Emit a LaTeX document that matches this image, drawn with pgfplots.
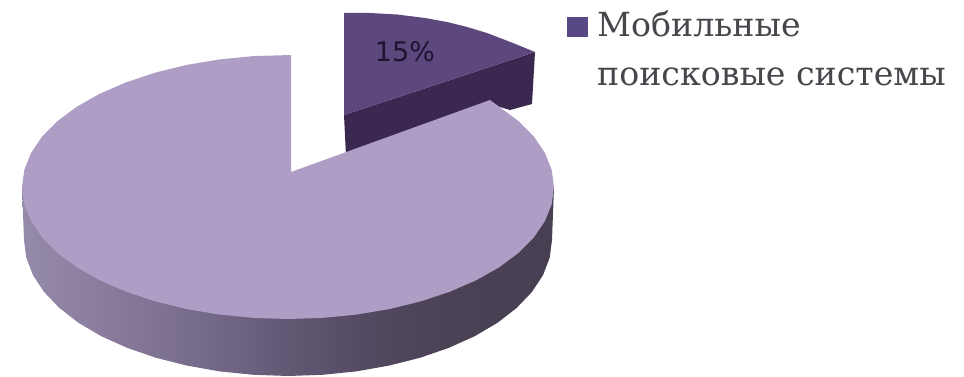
\documentclass[border=0pt]{standalone}
\usepackage{fontspec}
\usepackage{pgfplots}
\pgfplotsset{compat=1.18}
\setmainfont{Liberation Sans}
\newfontfamily\legendfont{DejaVu Serif}
\newfontfamily\labelfont{DejaVu Sans}
\definecolor{topbig}{RGB}{174,158,197}
\definecolor{topsmall}{RGB}{92,72,125}
\definecolor{sidesmall}{RGB}{58,40,80}
\definecolor{legendsq}{RGB}{88,72,134}
\definecolor{labeltext}{RGB}{30,20,50}
\definecolor{legendtext}{RGB}{70,70,76}
\definecolor{rimA}{RGB}{150,138,170}
\definecolor{rimB}{RGB}{136,123,156}
\definecolor{rimC}{RGB}{118,106,138}
\definecolor{rimD}{RGB}{98,88,116}
\definecolor{rimE}{RGB}{82,72,96}
\definecolor{rimF}{RGB}{74,65,84}
\definecolor{rimG}{RGB}{72,63,82}
% Rim of the large slice: light on the left, dark towards the right
\pgfdeclarehorizontalshading{rimshade}{100bp}{
  color(0bp)=(rimA);
  color(25bp)=(rimA);
  color(33bp)=(rimB);
  color(42bp)=(rimC);
  color(50bp)=(rimD);
  color(58bp)=(rimE);
  color(66bp)=(rimF);
  color(75bp)=(rimG);
  color(100bp)=(rimG)}
\begin{document}
\begin{tikzpicture}
\begin{axis}[
  hide axis,
  scale only axis,
  width=964pt, height=377pt,
  xmin=0, xmax=964, ymin=0, ymax=377,
  y dir=reverse,
  clip=false,
]
% Keeps the whole plot rectangle inside the page
\path (axis cs:0,0) (axis cs:964,377);
% Exploded 15% slice: side wall, then top face
\addplot[draw=none, fill=sidesmall] coordinates {
  (344,115) (535,52) (532,104) (510,110) (490,104) (346,156)
} -- cycle;
\addplot[draw=none, fill=topsmall] coordinates {
  (344,13) (370,13) (397,14.5) (425,18) (447,22) (467,27) (487,33) (513,43) (535,52) (344,115)
} -- cycle;
% Rim of the 85% slice
\addplot[draw=none, shading=rimshade] coordinates {
  (22,187) (24,240) (26.3,257.7) (33,275.2) (44.1,292) (59.4,308) (78.5,322.8) (101.3,336.2)
  (127.3,347.9) (156,357.8) (187,365.6) (219.7,371.4) (253.5,374.8) (288,376) (322.5,374.8)
  (356.3,371.4) (389,365.6) (420,357.8) (448.7,347.9) (474.7,336.2) (497.5,322.8) (516.6,308)
  (531.9,292) (543,275.2) (549.7,257.7) (552,240) (554,187)
} -- cycle;
% Top face of the 85% slice
\addplot[draw=none, fill=topbig] coordinates {
  (291,172) (291,55) (253.3,56.1) (219.2,59.5) (186.2,65) (155,72.7) (126.1,82.3) (99.9,93.7)
  (77,106.6) (57.6,121) (42.2,136.5) (31.1,152.8) (24.3,169.8) (22,187) (24.3,204.2) (31.1,221.2)
  (42.2,237.5) (57.6,253) (77,267.4) (99.9,280.3) (126.1,291.7) (155,301.3) (186.2,309) (219.2,314.5)
  (253.3,317.9) (288,319) (322.7,317.9) (356.8,314.5) (389.8,309) (421,301.3) (449.9,291.7) (476.1,280.3)
  (499,267.4) (518.4,253) (533.8,237.5) (544.9,221.2) (551.7,204.2) (554,187) (551.7,169.8) (544.9,152.8)
  (533.8,136.5) (518.4,121) (499,106.6) (490,100)
} -- cycle;
% Legend swatch
\addplot[draw=none, fill=legendsq] coordinates {(567,17) (588,17) (588,37) (567,37)} -- cycle;
\node[anchor=base, inner sep=0pt, text=labeltext] at (axis cs:405,62)
  {\labelfont\fontsize{27}{27}\selectfont 15\%};
\node[anchor=base west, inner sep=0pt, text=legendtext] at (axis cs:597,37)
  {\legendfont\fontsize{33.2}{33.2}\selectfont Мобильные};
\node[anchor=base west, inner sep=0pt, text=legendtext] at (axis cs:597,86)
  {\legendfont\fontsize{33.2}{33.2}\selectfont поисковые системы};
\end{axis}
\end{tikzpicture}
\end{document}
